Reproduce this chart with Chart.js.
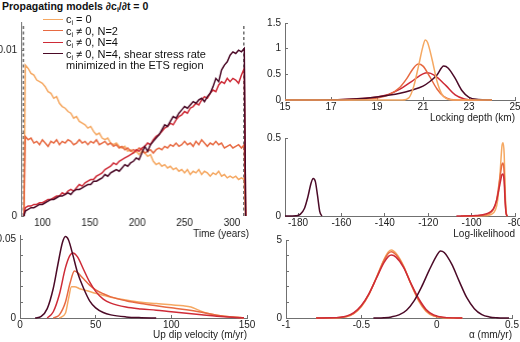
<!DOCTYPE html>
<html><head><meta charset="utf-8">
<script src="https://cdn.jsdelivr.net/npm/chart.js@4.4.1/dist/chart.umd.min.js"></script>
<style>
html,body{margin:0;padding:0;background:#fff;}
#wrap{position:relative;width:520px;height:342px;overflow:hidden;font-family:"Liberation Sans",Arial,sans-serif;}
#wrap canvas{position:absolute;}
.title{position:absolute;left:2px;top:0px;font-weight:bold;font-size:10.5px;line-height:12px;color:#111;white-space:nowrap;z-index:5;}
.leg{position:absolute;left:43px;font-size:11px;line-height:12px;color:#111;white-space:nowrap;z-index:5;}
.leg .ln{display:inline-block;width:20px;height:0;border-top:1.5px solid;vertical-align:middle;margin-right:3px;position:relative;top:-1px;}
.leg .sp{display:inline-block;width:23px;}
sub{font-size:7px;vertical-align:-2px;line-height:0;}
</style>
</head><body>
<div id="wrap">
  <div class="title">Propagating models ∂c<sub>i</sub>/∂t = 0</div>
  <div class="leg" style="top:13px"><span class="ln" style="border-color:#F5A862"></span>c<sub>i</sub> = 0</div>
  <div class="leg" style="top:24.5px"><span class="ln" style="border-color:#E76A42"></span>c<sub>i</sub> ≠ 0, N=2</div>
  <div class="leg" style="top:36px"><span class="ln" style="border-color:#CE2B37"></span>c<sub>i</sub> ≠ 0, N=4</div>
  <div class="leg" style="top:47.5px"><span class="ln" style="border-color:#4B0A27"></span>c<sub>i</sub> ≠ 0, N=4, shear stress rate</div>
  <div class="leg" style="top:59px"><span class="sp"></span>minimized in the ETS region</div>
</div>
<script>
// ---------- DATA ----------
const COLORS = {light:'#F5A862', n2:'#E76A42', n4:'#CE2B37', dark:'#4B0A27'};

// Panel 1: time (years) vs density
const timeYears = [82,85,88,91,94,97,100,103,106,109,112,115,118,121,124,127,130,133,136,139,142,145,148,151,154,157,160,163,166,169,172,175,178,181,184,187,190,193,196,199,202,205,208,211,214,217,220,223,226,229,232,235,238,241,244,247,250,253,256,259,262,265,268,271,274,277,280,283,286,289,292,295,298,301,304,307,310,313];
const timeLight = [.0091,.0089,.0086,.0085,.0082,.0081,.0080,.0078,.0075,.0074,
  .0071,.0072,.0068,.0066,.0065,.0063,.0062,.0059,.0060,.0057,
  .0056,.0055,.0053,.0054,.0051,.0049,.0050,.0047,.0046,.0047,
  .0044,.0043,.0044,.0042,.0041,.0042,.0039,.0040,.0038,.0039,
  .0037,.0039,.0038,.0036,.0037,.0033,.0031,.0032,.0030,.0031,
  .0029,.0030,.0028,.0029,.0027,.0028,.0026,.0028,.0025,.0027,
  .0026,.0028,.0025,.0027,.0026,.0024,.0026,.0025,.0027,.0024,
  .0025,.0023,.0024,.0023,.0024,.0022,.0023,.0022];
const timeN2 = [.0048,.0046,.0047,.0044,.0045,.0043,.0046,.0044,.0042,.0045,
  .0044,.0046,.0043,.0045,.0044,.0046,.0045,.0043,.0044,.0046,
  .0044,.0045,.0043,.0045,.0044,.0046,.0043,.0044,.0045,.0043,
  .0044,.0042,.0043,.0041,.0042,.0040,.0041,.0039,.0040,.0039,
  .0041,.0040,.0038,.0039,.0040,.0038,.0040,.0041,.0040,.0042,
  .0041,.0043,.0042,.0044,.0042,.0043,.0045,.0043,.0044,.0042,
  .0045,.0043,.0046,.0044,.0042,.0044,.0043,.0045,.0043,.0044,
  .0041,.0042,.0043,.0041,.0042,.0043,.0041,.0043];
const timeN4 = [.0005,.0006,.0006,.0007,.0007,.0008,.0008,.0009,.0010,.0010,
  .0011,.0012,.0012,.0014,.0013,.0015,.0016,.0015,.0017,.0019,
  .0018,.0020,.0021,.0022,.0022,.0024,.0025,.0026,.0028,.0029,
  .0030,.0032,.0031,.0033,.0034,.0035,.0036,.0037,.0038,.0040,
  .0039,.0041,.0042,.0044,.0043,.0046,.0048,.0049,.0051,.0053,
  .0054,.0056,.0055,.0058,.0060,.0061,.0063,.0062,.0065,.0066,
  .0068,.0067,.0070,.0072,.0071,.0074,.0076,.0075,.0079,.0081,
  .0080,.0083,.0081,.0083,.0082,.0080,.0085,.0089];
const timeDark = [.0003,.0004,.0005,.0005,.0006,.0007,.0007,.0008,.0009,.0010,
  .0010,.0011,.0012,.0012,.0013,.0014,.0013,.0015,.0016,.0016,
  .0017,.0018,.0019,.0019,.0021,.0021,.0022,.0023,.0025,.0024,
  .0026,.0027,.0028,.0027,.0029,.0031,.0030,.0032,.0033,.0035,
  .0034,.0038,.0042,.0039,.0043,.0045,.0047,.0049,.0052,.0055,
  .0054,.0057,.0060,.0059,.0062,.0064,.0066,.0065,.0067,.0069,
  .0068,.0070,.0071,.0069,.0072,.0074,.0078,.0083,.0081,.0088,
  .0091,.0093,.0097,.0099,.0098,.0100,.0099,.0101];
const timeEdgeYears = [80.5, 314.5];   // series start / end (value 0)
const dashYears = [80, 312.5];         // dashed vertical markers
const dashRange = [0, 0.0115];
const timeXTicks = [100,150,200,250,300];
const timeYTicks = [0,0.005,0.01];
const timeYLabels = ['0','','0.01'];

// Panel 2: up dip velocity
const velXLight = [26,30,32,34,36,40,45,50,55,60,70,80,90,100,108,113,118,123,130,140,148];
const velYLight = [0,0.003,0.012,0.020,0.020,0.0185,0.0172,0.0158,0.0145,0.0133,0.0115,0.0100,0.0092,0.0084,0.0078,0.0070,0.0050,0.0032,0.0018,0.0006,0.0001];
const velXN2 = [22,26,30,33,36,38,42,46,50,55,60,70,80,90,100,110,120,130,140,148];
const velYN2 = [0,0.002,0.010,0.022,0.030,0.029,0.025,0.021,0.018,0.0155,0.0135,0.011,0.0092,0.0078,0.0065,0.0052,0.0036,0.0018,0.0006,0.0001];
const velXN4 = [18,22,26,30,33,35,38,42,46,50,55,60,70,80,90,100,110,120,130,140,148];
const velYN4 = [0,0.004,0.015,0.032,0.040,0.0415,0.039,0.031,0.023,0.017,0.012,0.0095,0.0070,0.0058,0.0050,0.0040,0.0031,0.0021,0.0011,0.0004,0.0001];
const velXDark = [10,14,18,22,25,28,30,32,35,38,42,46,50,55,60,70,80,90];
const velYDark = [0,0.001,0.006,0.019,0.034,0.048,0.052,0.050,0.040,0.029,0.019,0.011,0.0065,0.0035,0.0020,0.0007,0.0002,0];
const velXTicks = [0,50,100,150];
const velYTicks = [0,0.01,0.02,0.03,0.04,0.05];
const velYLabels = ['0','','','','','0.05'];

// Panel 3: locking depth
const lockXLight = [15,20.1,20.4,20.6,20.8,21.0,21.1,21.2,21.4,21.6,21.8,22.0,22.3,24];
const lockYLight = [0,0,0.05,0.27,0.65,1.05,1.17,1.12,0.78,0.38,0.13,0.03,0,0];
const lockXN2 = [15,17,18,19,19.5,20,20.3,20.6,20.8,21.0,21.3,21.6,21.9,22.2,22.5,24];
const lockYN2 = [0,0.002,0.01,0.04,0.10,0.25,0.42,0.63,0.70,0.66,0.45,0.22,0.07,0.01,0,0];
const lockXN4 = [15,17,18,19,19.5,20,20.5,21,21.2,21.5,22,22.4,22.8,23.2,24];
const lockYN4 = [0,0.005,0.02,0.06,0.11,0.21,0.36,0.51,0.53,0.48,0.28,0.10,0.02,0,0];
const lockXDark = [15,17,18,19,20,20.5,21,21.3,21.6,21.9,22.1,22.4,22.7,23,23.4,24];
const lockYDark = [0,0.005,0.02,0.06,0.13,0.19,0.27,0.36,0.48,0.66,0.62,0.42,0.18,0.05,0.01,0];
const lockXTicks = [15,17,19,21,23,25];
const lockYTicks = [0,0.5,1,1.5];
const lockYLabels = ['0','0.5','1','1.5'];

// Panel 4: log-likelihood
const llXDark = [-186,-181,-179,-177,-175.5,-174,-173,-172,-171,-170,-169];
const llYDark = [0,0.002,0.01,0.05,0.12,0.21,0.24,0.22,0.13,0.03,0];
const llXLight = [-104,-95,-91,-89,-88,-87,-86,-85.5,-85,-84.5,-84,-83.5];
const llYLight = [0,0.002,0.01,0.04,0.10,0.25,0.45,0.47,0.40,0.15,0.02,0];
const llXN2 = [-105,-96,-92,-90,-88.5,-87,-86,-85.5,-85,-84.5,-84,-83.5];
const llYN2 = [0,0.003,0.015,0.04,0.10,0.24,0.33,0.34,0.28,0.10,0.01,0];
const llXN4 = [-107,-98,-93,-90,-88.5,-87,-86,-85.5,-85,-84.5,-84,-83.5];
const llYN4 = [0,0.003,0.015,0.045,0.10,0.20,0.265,0.27,0.22,0.08,0.01,0];
const llXTicks = [-180,-160,-140,-120,-100,-80];
const llYTicks = [0,0.5];
const llYLabels = ['0','0.5'];

// Panel 5: alpha (mm/yr)
const alXRed = [-0.8,-0.7,-0.6,-0.55,-0.5,-0.45,-0.4,-0.35,-0.32,-0.3,-0.27,-0.22,-0.17,-0.12,-0.07,-0.02,0.05,0.17];
const alYLight = [0,0.005,0.08,0.28,0.72,1.5,2.6,3.75,4.25,4.36,4.15,3.35,2.15,1.1,0.42,0.12,0.02,0];
const alYN2 = [0,0.008,0.1,0.3,0.76,1.52,2.58,3.68,4.15,4.25,4.05,3.3,2.18,1.18,0.48,0.15,0.03,0];
const alYN4 = [0,0.01,0.12,0.35,0.8,1.55,2.55,3.55,3.95,4.04,3.9,3.25,2.2,1.25,0.55,0.2,0.04,0];
const alXDark = [-0.42,-0.35,-0.3,-0.25,-0.2,-0.15,-0.1,-0.05,0,0.025,0.05,0.1,0.15,0.2,0.25,0.3,0.35,0.4,0.48];
const alYDark = [0,0.02,0.07,0.2,0.5,1.1,2.0,3.05,4.0,4.3,4.2,3.45,2.35,1.3,0.6,0.22,0.07,0.02,0];
const alXTicks = [-1,-0.5,0,0.5];
const alXLabels = ['-1','-0.5','0','0.5'];
const alYTicks = [0,1,2,3,4,5];
const alYLabels = ['0','','','','','5'];

// ---------- RENDER ----------
const FF = '"Liberation Sans", Arial, sans-serif';
const AX = '#707070', TC = '#222';
const wrap = document.getElementById('wrap');

function xy(xs, ys){ return xs.map((x,i)=>({x:x, y:ys[i]})); }
function ds(data, color, order, smooth){
  return {data:data, borderColor:color, backgroundColor:color, borderWidth:1.5, pointRadius:0,
    fill:false, order:order, tension:0, cubicInterpolationMode: smooth ? 'monotone' : 'default', clip:false};
}

function panel(cfg){
  const m = cfg.m, p = cfg.plot;
  const W = m.l + (p.r - p.l) + m.r, H = m.t + (p.b - p.t) + m.b;
  const c = document.createElement('canvas');
  c.width = W; c.height = H;
  c.style.left = (p.l - m.l) + 'px'; c.style.top = (p.t - m.t) + 'px';
  c.style.width = W + 'px'; c.style.height = H + 'px';
  wrap.appendChild(c);
  const xLine = cfg.x.line !== false;
  new Chart(c, {
    type:'line',
    data:{datasets:cfg.datasets},
    options:{
      responsive:false, animation:false, devicePixelRatio:1,
      layout:{padding:{left:0, top:m.t, right:m.r, bottom:0}},
      plugins:{legend:{display:false}, tooltip:{enabled:false}},
      scales:{
        x:{type:'linear', position:'bottom', min:cfg.x.min, max:cfg.x.max,
          afterBuildTicks: s => { s.ticks = cfg.x.ticks.map(v => ({value:v})); },
          afterFit: s => { s.height = m.b; s.paddingLeft = 0; s.paddingRight = 0; },
          border:{display:xLine, color:AX, width:1},
          grid:{drawOnChartArea:false, drawTicks:xLine, tickLength:-3, color:AX, lineWidth:1},
          ticks:{padding: xLine ? 4 : 1, autoSkip:false, maxRotation:0, color:TC, font:{size:10, family:FF},
            callback:(v,i) => cfg.x.labels ? cfg.x.labels[i] : String(cfg.x.ticks[i])},
          title:{display:true, text:cfg.x.title, align:'end', padding:0, color:TC, font:{size:10, family:FF, lineHeight:1.2}}
        },
        y:{type:'linear', position:'left', min:cfg.y.min, max:cfg.y.max,
          afterBuildTicks: s => { s.ticks = cfg.y.ticks.map(v => ({value:v})); },
          afterFit: s => { s.width = m.l; s.paddingTop = 0; s.paddingBottom = 0; },
          border:{display:true, color:AX, width:1},
          grid:{drawOnChartArea:false, drawTicks:true, tickLength:-3, color:AX, lineWidth:1},
          ticks:{padding:7, autoSkip:false, color:TC, font:{size:10, family:FF},
            callback:(v,i) => cfg.y.labels[i]}
        }
      }
    }
  });
}

// Panel 1
const tSeries = (vals) => [{x:timeEdgeYears[0], y:0}].concat(xy(timeYears, vals), [{x:timeEdgeYears[1], y:0}]);
panel({
  plot:{l:21, r:248.5, t:22, b:216}, m:{l:21, t:6, r:6, b:24},
  x:{min:77.5, max:318, ticks:timeXTicks, title:'Time (years)', line:false},
  y:{min:0, max:0.0117, ticks:timeYTicks, labels:timeYLabels},
  datasets:[
    Object.assign(ds(xy([dashYears[0],dashYears[0]], dashRange), '#6e6e6e', 5, false), {borderDash:[3,2.5], borderWidth:1.5}),
    Object.assign(ds(xy([dashYears[1],dashYears[1]], dashRange), '#6e6e6e', 5, false), {borderDash:[3,2.5], borderWidth:1.5}),
    ds(tSeries(timeLight), COLORS.light, 4, false),
    ds(tSeries(timeN2), COLORS.n2, 3, false),
    ds(tSeries(timeN4), COLORS.n4, 2, false),
    ds(tSeries(timeDark), COLORS.dark, 1, false)
  ]
});

// Panel 2
panel({
  plot:{l:20, r:247, t:235, b:318}, m:{l:20, t:4, r:12, b:23},
  x:{min:0, max:150, ticks:velXTicks, title:'Up dip velocity (m/yr)'},
  y:{min:0, max:0.053, ticks:velYTicks, labels:velYLabels},
  datasets:[
    ds(xy(velXLight, velYLight), COLORS.light, 4, true),
    ds(xy(velXN2, velYN2), COLORS.n2, 3, true),
    ds(xy(velXN4, velYN4), COLORS.n4, 2, true),
    ds(xy(velXDark, velYDark), COLORS.dark, 1, true)
  ]
});

// Panel 3
panel({
  plot:{l:285, r:515, t:23, b:100}, m:{l:25, t:6, r:5, b:24},
  x:{min:15, max:25, ticks:lockXTicks, title:'Locking depth (km)'},
  y:{min:0, max:1.5, ticks:lockYTicks, labels:lockYLabels},
  datasets:[
    ds(xy(lockXLight, lockYLight), COLORS.light, 1, true),
    ds(xy(lockXN2, lockYN2), COLORS.n2, 3, true),
    ds(xy(lockXN4, lockYN4), COLORS.n4, 4, true),
    ds(xy(lockXDark, lockYDark), COLORS.dark, 2, true)
  ]
});

// Panel 4
panel({
  plot:{l:285, r:515, t:138, b:216}, m:{l:25, t:6, r:5, b:24},
  x:{min:-186, max:-80, ticks:llXTicks, title:'Log-likelihood'},
  y:{min:0, max:0.5, ticks:llYTicks, labels:llYLabels},
  datasets:[
    ds(xy(llXLight, llYLight), COLORS.light, 4, true),
    ds(xy(llXN2, llYN2), COLORS.n2, 3, true),
    ds(xy(llXN4, llYN4), COLORS.n4, 2, true),
    ds(xy(llXDark, llYDark), COLORS.dark, 1, true)
  ]
});

// Panel 5
panel({
  plot:{l:286, r:512, t:240, b:318}, m:{l:26, t:6, r:8, b:23},
  x:{min:-1, max:0.5, ticks:alXTicks, labels:alXLabels, title:'α (mm/yr)'},
  y:{min:0, max:5, ticks:alYTicks, labels:alYLabels},
  datasets:[
    ds(xy(alXRed, alYLight), COLORS.light, 4, true),
    ds(xy(alXRed, alYN2), COLORS.n2, 3, true),
    ds(xy(alXRed, alYN4), COLORS.n4, 2, true),
    ds(xy(alXDark, alYDark), COLORS.dark, 1, true)
  ]
});
</script>
</body></html>
